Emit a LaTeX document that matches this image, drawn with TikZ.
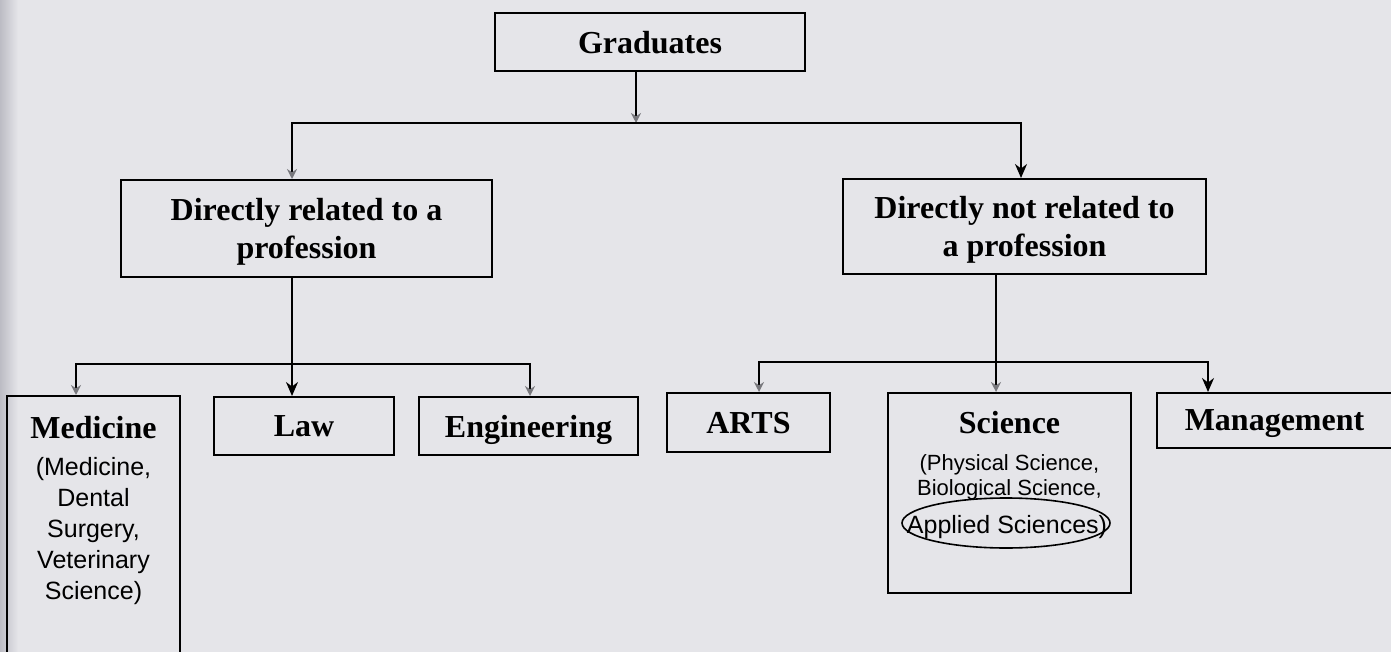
\documentclass[tikz,border=0pt]{standalone}
\usepackage{fontspec}
\setmainfont{Liberation Serif}
\newfontfamily\arialfont{Liberation Sans}
\usetikzlibrary{arrows.meta}
\definecolor{paper}{RGB}{229,229,233}
\definecolor{shadow}{RGB}{188,188,196}
\definecolor{ghost}{RGB}{120,120,125}
\begin{document}
\begin{tikzpicture}[x=0.5pt,y=-0.5pt,
  box/.style={draw, line width=1pt, inner sep=0pt},
  title/.style={font=\bfseries\fontsize{16}{19}\selectfont, align=center, inner sep=0pt, text depth=0pt},
  subtext/.style 2 args={font=\arialfont\fontsize{#1}{#2}\selectfont, align=center, inner sep=0pt},
  arr/.style={line width=1pt, -{Stealth[length=7pt,width=6pt]}},
  fadearr/.style={line width=1pt, -{Stealth[length=5pt,width=5pt,ghost]}},
  bar/.style={line width=1pt}]
\useasboundingbox (0,0) rectangle (1391,652);
\fill[paper] (0,0) rectangle (1391,652);
\shade[left color=shadow, right color=paper] (0,0) rectangle (18,652);
\node[box, minimum width=155pt, minimum height=29pt] (grad) at (650,42) {};
\node[title] (gradtext) at (grad) {Graduates};
\node[box, minimum width=185.5pt, minimum height=48.5pt] (rel) at (306.5,228.5) {};
\node[title] (reltext) at (rel) {Directly related to a\\profession};
\node[box, minimum width=181.5pt, minimum height=47.5pt] (notrel) at (1024.5,226.5) {};
\node[title] (notreltext) at (notrel) {Directly not related to\\a profession};
\node[box, minimum width=86.5pt, minimum height=142pt] (med) at (93.5,538) {};
\node[title, anchor=base] (medtitle) at (93.5,438) {Medicine};
\node[subtext={12.5}{15.5}, anchor=north] (medsub) at (93.5,457) {(Medicine,\\Dental\\Surgery,\\Veterinary\\Science)};
\node[box, minimum width=90pt, minimum height=29pt] (law) at (304,426) {};
\node[title] (lawtext) at (law) {Law};
\node[box, minimum width=109.5pt, minimum height=29pt] (eng) at (528.5,426) {};
\node[title] (engtext) at (eng) {Engineering};
\node[box, minimum width=81.5pt, minimum height=29.5pt] (arts) at (748.5,422.5) {};
\node[title] (artstext) at (arts) {ARTS};
\node[box, minimum width=121.5pt, minimum height=100pt] (sci) at (1009.5,493) {};
\node[title, anchor=base] (scititle) at (1009.5,433) {Science};
\node[subtext={11}{12.5}, anchor=north] (scisub) at (1009.5,454) {(Physical Science,\\Biological Science,};
\node[subtext={12.5}{15}, anchor=base] (applied) at (1007,533) {Applied Sciences)};
\draw[line width=0.8pt] (1006,523) ellipse [x radius=104, y radius=25];
\node[box, minimum width=117.5pt, minimum height=27.5pt] (mgmt) at (1274.5,420.5) {};
\node[title] (mgmttext) at (mgmt) {Management};
\coordinate (split) at (636,123);
\coordinate (lsplit) at (292,364);
\coordinate (rsplit) at (996,362);
\draw[fadearr] (grad.south -| split) -- (split);
\draw[fadearr] (split) -| ([xshift=-7.25pt]rel.north);
\draw[arr] (split) -| ([xshift=-1.75pt]notrel.north);
\draw[arr] (rel.south -| lsplit) -- (law.north -| lsplit);
\draw[fadearr] (lsplit) -| ([xshift=-8.75pt]med.north);
\draw[fadearr] (lsplit) -| ([xshift=0.75pt]eng.north);
\draw[bar] (notrel.south -| rsplit) -- (rsplit);
\draw[fadearr] (rsplit) -| ([xshift=5.25pt]arts.north);
\draw[fadearr] (rsplit) -- (sci.north -| rsplit);
\draw[arr] (rsplit) -| ([xshift=-33.25pt]mgmt.north);
\end{tikzpicture}
\end{document}
